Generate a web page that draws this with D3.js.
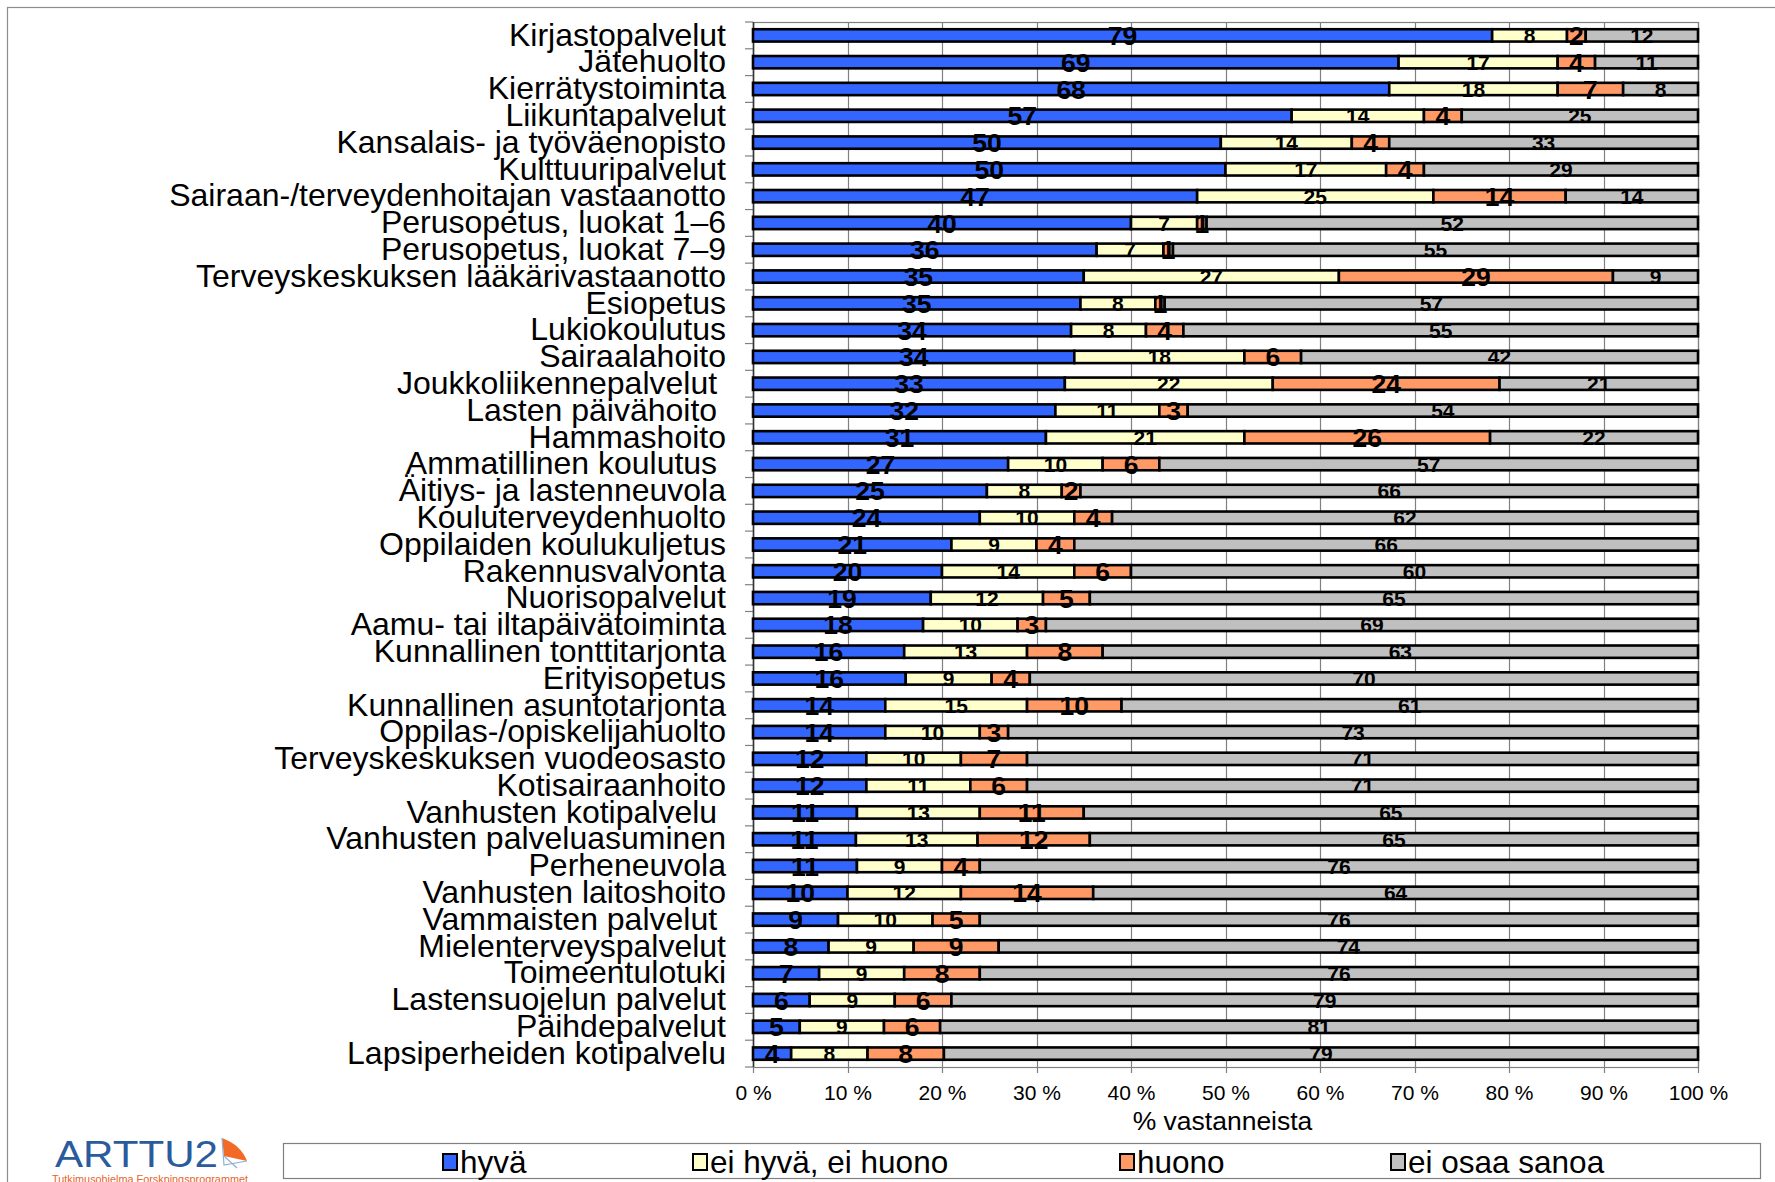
<!DOCTYPE html>
<html>
<head>
<meta charset="utf-8">
<script src="https://cdn.jsdelivr.net/npm/d3@7"></script>
<style>
  html, body { margin: 0; padding: 0; background: #fff; }
  svg { display: block; font-family: "Liberation Sans", Arial, sans-serif; }
</style>
</head>
<body>
<svg id="chart" width="1775" height="1182"></svg>
<script>
const categories = [
  "Kirjastopalvelut", "Jätehuolto", "Kierrätystoiminta", "Liikuntapalvelut",
  "Kansalais- ja työväenopisto", "Kulttuuripalvelut", "Sairaan-/terveydenhoitajan vastaanotto",
  "Perusopetus, luokat 1–6", "Perusopetus, luokat 7–9", "Terveyskeskuksen lääkärivastaanotto",
  "Esiopetus", "Lukiokoulutus", "Sairaalahoito", "Joukkoliikennepalvelut ", "Lasten päivähoito ",
  "Hammashoito", "Ammatillinen koulutus ", "Äitiys- ja lastenneuvola", "Kouluterveydenhuolto",
  "Oppilaiden koulukuljetus", "Rakennusvalvonta", "Nuorisopalvelut", "Aamu- tai iltapäivätoiminta",
  "Kunnallinen tonttitarjonta", "Erityisopetus", "Kunnallinen asuntotarjonta", "Oppilas-/opiskelijahuolto",
  "Terveyskeskuksen vuodeosasto", "Kotisairaanhoito", "Vanhusten kotipalvelu ", "Vanhusten palveluasuminen",
  "Perheneuvola", "Vanhusten laitoshoito", "Vammaisten palvelut ", "Mielenterveyspalvelut",
  "Toimeentulotuki", "Lastensuojelun palvelut", "Päihdepalvelut", "Lapsiperheiden kotipalvelu"
];

const hyva =          [79, 69, 68, 57, 50, 50, 47, 40, 36, 35, 35, 34, 34, 33, 32, 31, 27, 25, 24, 21, 20, 19, 18, 16, 16, 14, 14, 12, 12, 11, 11, 11, 10, 9, 8, 7, 6, 5, 4];
const eiHyvaEiHuono = [8, 17, 18, 14, 14, 17, 25, 7, 7, 27, 8, 8, 18, 22, 11, 21, 10, 8, 10, 9, 14, 12, 10, 13, 9, 15, 10, 10, 11, 13, 13, 9, 12, 10, 9, 9, 9, 9, 8];
const huono =         [2, 4, 7, 4, 4, 4, 14, 1, 1, 29, 1, 4, 6, 24, 3, 26, 6, 2, 4, 4, 6, 5, 3, 8, 4, 10, 3, 7, 6, 11, 12, 4, 14, 5, 9, 8, 6, 6, 8];
const eiOsaaSanoa =   [12, 11, 8, 25, 33, 29, 14, 52, 55, 9, 57, 55, 42, 21, 54, 22, 57, 66, 62, 66, 60, 65, 69, 63, 70, 61, 73, 71, 71, 65, 65, 76, 64, 76, 74, 76, 79, 81, 79];

const seriesKeys = ["hyva", "eiHyva", "huono", "eiOsaa"];
const seriesNames = ["hyvä", "ei hyvä, ei huono", "huono", "ei osaa sanoa"];
const seriesColors = ["#3366ff", "#ffffcc", "#ff9966", "#c0c0c0"];
const xTicks = [0, 0.1, 0.2, 0.3, 0.4, 0.5, 0.6, 0.7, 0.8, 0.9, 1];

const rows = categories.map((c, i) => ({
  cat: c, hyva: hyva[i], eiHyva: eiHyvaEiHuono[i], huono: huono[i], eiOsaa: eiOsaaSanoa[i]
}));

const svg = d3.select("#chart");
const W = 1775, H = 1182;
const plot = { left: 753, right: 1698, top: 22, bottom: 1067 };

// outer frame (only top/left edge visible)
svg.append("rect")
  .attr("x", 7.5).attr("y", 7.5).attr("width", W + 20).attr("height", H + 20)
  .attr("fill", "#fff").attr("stroke", "#8c8c8c").attr("stroke-width", 1.2);

const x = d3.scaleLinear().domain([0, 1]).range([plot.left, plot.right]);
const y = d3.scaleBand().domain(categories).range([plot.top, plot.bottom])
  .paddingInner(0.54).paddingOuter(0.27);

const stacked = d3.stack().keys(seriesKeys).offset(d3.stackOffsetExpand)(rows);

// gridlines + bottom ticks
svg.append("g")
  .selectAll("line")
  .data(xTicks)
  .join("line")
  .attr("x1", d => Math.round(x(d)) + 0.5).attr("x2", d => Math.round(x(d)) + 0.5)
  .attr("y1", plot.top).attr("y2", plot.bottom + 6)
  .attr("stroke", "#808080").attr("stroke-width", 1.2);

// plot frame
svg.append("rect")
  .attr("x", plot.left + 0.5).attr("y", plot.top + 0.5)
  .attr("width", plot.right - plot.left).attr("height", plot.bottom - plot.top)
  .attr("fill", "none").attr("stroke", "#808080").attr("stroke-width", 1.2);

// left axis line and category ticks at band boundaries
const boundaries = d3.range(categories.length + 1).map(i => plot.top + i * y.step());
svg.append("g")
  .selectAll("line")
  .data(boundaries)
  .join("line")
  .attr("x1", plot.left - 8).attr("x2", plot.left)
  .attr("y1", d => d).attr("y2", d => d)
  .attr("stroke", "#808080").attr("stroke-width", 1.2);
svg.append("line")
  .attr("x1", plot.left + 0.5).attr("x2", plot.left + 0.5)
  .attr("y1", plot.top).attr("y2", plot.bottom)
  .attr("stroke", "#333").attr("stroke-width", 1.5);

// bars
const layers = svg.append("g")
  .selectAll("g")
  .data(stacked)
  .join("g")
  .attr("fill", (d, i) => seriesColors[i]);

layers.selectAll("rect")
  .data(d => d)
  .join("rect")
  .attr("x", d => x(d[0]))
  .attr("y", d => y(d.data.cat))
  .attr("width", d => x(d[1]) - x(d[0]))
  .attr("height", y.bandwidth())
  .attr("stroke", "#000")
  .attr("stroke-width", 2.6);

// value labels
stacked.forEach((layer, i) => {
  const big = i === 0 || i === 2;
  svg.append("g")
    .selectAll("text")
    .data(layer)
    .join("text")
    .attr("x", d => x((d[0] + d[1]) / 2))
    .attr("y", d => y(d.data.cat) + y.bandwidth() / 2)
    .attr("dy", "0.36em")
    .attr("text-anchor", "middle")
    .attr("font-size", big ? 26.5 : 21)
    .attr("font-weight", "bold")
    .attr("fill", "#000")
    .text(d => d.data[seriesKeys[i]]);
});

// category labels
svg.append("g")
  .selectAll("text")
  .data(categories)
  .join("text")
  .attr("x", 726)
  .attr("y", d => y(d) + y.bandwidth() / 2)
  .attr("dy", "0.32em")
  .attr("text-anchor", "end")
  .attr("font-size", 32)
  .attr("fill", "#000")
  .style("white-space", "pre")
  .text(d => d);

// x axis tick labels
svg.append("g")
  .attr("transform", `translate(0,${plot.bottom})`)
  .call(d3.axisBottom(x).tickValues(xTicks).tickSize(0).tickPadding(18)
    .tickFormat(d => Math.round(d * 100) + " %"))
  .call(g => g.select(".domain").remove())
  .selectAll("text")
  .attr("font-size", 21)
  .attr("font-family", "\"Liberation Sans\", Arial, sans-serif")
  .attr("fill", "#000");

svg.append("text")
  .attr("x", (plot.left + plot.right) / 2 - 3)
  .attr("y", 1130)
  .attr("text-anchor", "middle")
  .attr("font-size", 26.5)
  .text("% vastanneista");

// legend
svg.append("rect")
  .attr("x", 283.5).attr("y", 1143.5).attr("width", 1477).attr("height", 35)
  .attr("fill", "#fff").attr("stroke", "#808080").attr("stroke-width", 1.2);

const legendX = [443, 693, 1120, 1391];
const legend = svg.append("g")
  .selectAll("g")
  .data(seriesNames)
  .join("g")
  .attr("transform", (d, i) => `translate(${legendX[i]},1162)`);
legend.append("rect")
  .attr("x", 0).attr("y", -8).attr("width", 14).attr("height", 16)
  .attr("fill", (d, i) => seriesColors[i])
  .attr("stroke", "#000").attr("stroke-width", 2);
legend.append("text")
  .attr("x", 17).attr("dy", "0.34em")
  .attr("font-size", 31.5)
  .text(d => d);

// logo
const logo = svg.append("g");
logo.append("text")
  .attr("x", 55).attr("y", 1167)
  .attr("font-size", 37)
  .attr("textLength", 163).attr("lengthAdjust", "spacingAndGlyphs")
  .attr("fill", "#2a5b9c")
  .text("ARTTU2");
logo.append("path")
  .attr("d", "M222,1138 Q241,1145 247,1161 L224,1156 Z")
  .attr("fill", "#f26a25");
logo.append("path")
  .attr("d", "M222,1138 L224,1165 L247,1161 M224,1156 L237,1168")
  .attr("fill", "none").attr("stroke", "#8fb1d6").attr("stroke-width", 1.2);
logo.append("text")
  .attr("x", 52).attr("y", 1183)
  .attr("font-size", 11)
  .attr("textLength", 196).attr("lengthAdjust", "spacingAndGlyphs")
  .attr("fill", "#e8632a")
  .text("Tutkimusohjelma  Forskningsprogrammet");
</script>
</body>
</html>
